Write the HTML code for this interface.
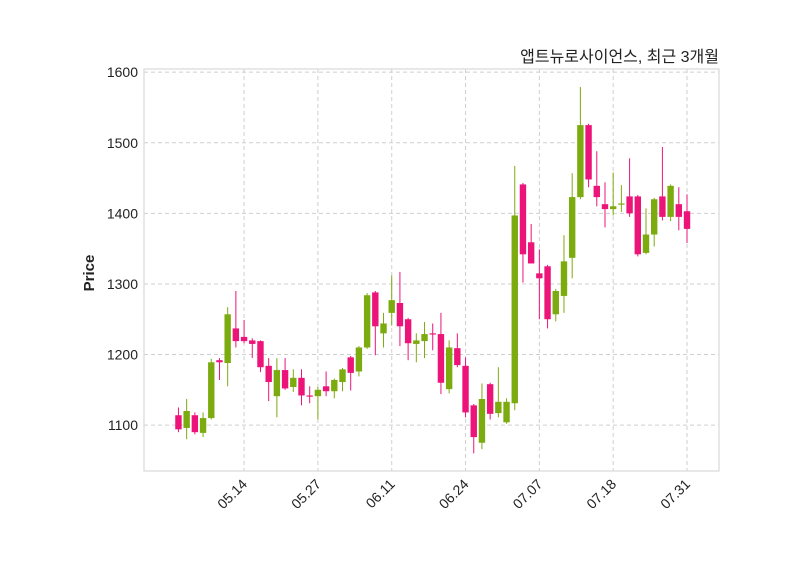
<!DOCTYPE html>
<html><head><meta charset="utf-8"><style>
body{margin:0;background:#fff;}
svg text{font-family:"Liberation Sans","Noto Sans CJK KR",sans-serif;}
</style></head><body>
<svg id="chart" width="800" height="575" xmlns="http://www.w3.org/2000/svg">
<rect width="800" height="575" fill="#fff"/>
<g id="grid"></g>
<rect x="144" y="69" width="575" height="402" fill="none" stroke="#d9d9d9" stroke-width="1.2"/>
<g id="candles"></g>
<g id="axes"></g>
<text x="719" y="62" text-anchor="end" font-size="16" fill="#222">앱트뉴로사이언스, 최근 3개월</text>
<text transform="translate(94,273) rotate(-90)" text-anchor="middle" font-size="15" font-weight="bold" fill="#222">Price</text>
</svg>
<script>
const opens  = [1114,1096,1114,1089,1110,1192,1188,1237,1225,1220,1219,1184,1141,1178,1154,1167,1142,1141,1155,1148,1161,1196,1176,1210,1288,1230,1259,1273,1250,1215,1219,1230,1229,1151,1209,1184,1128,1075,1158,1117,1104,1131,1441,1359,1315,1325,1257,1283,1337,1423,1525,1439,1413,1406,1413,1424,1424,1344,1370,1424,1395,1413,1403];
const closes = [1094,1120,1090,1110,1189,1189,1257,1219,1219,1215,1182,1161,1178,1152,1167,1142,1141,1150,1148,1164,1179,1174,1210,1284,1240,1244,1277,1240,1216,1220,1229,1229,1160,1210,1185,1118,1083,1137,1116,1133,1133,1397,1342,1329,1308,1250,1290,1332,1423,1525,1448,1423,1406,1410,1414,1400,1342,1370,1420,1395,1439,1395,1378];
const highs  = [1125,1137,1118,1118,1194,1195,1267,1290,1249,1223,1220,1195,1195,1195,1179,1179,1155,1154,1176,1166,1181,1198,1212,1287,1290,1259,1312,1317,1252,1230,1246,1244,1259,1220,1230,1196,1130,1159,1160,1182,1138,1467,1443,1385,1349,1327,1293,1369,1457,1579,1527,1488,1444,1458,1440,1478,1426,1407,1422,1494,1441,1437,1427];
const lows   = [1090,1080,1087,1083,1108,1164,1155,1210,1216,1195,1175,1134,1111,1150,1147,1128,1131,1108,1141,1138,1148,1149,1169,1208,1199,1210,1241,1212,1192,1189,1195,1206,1144,1145,1182,1111,1060,1066,1108,1111,1102,1121,1302,1329,1250,1237,1247,1259,1308,1420,1437,1410,1380,1397,1402,1395,1339,1342,1353,1390,1389,1376,1358];
const tickIdx = [8,17,26,35,44,53,62];
const tickLabels = ["05.14","05.27","06.11","06.24","07.07","07.18","07.31"];
const yTicks = [1100,1200,1300,1400,1500,1600];

const X0=144,X1=719,Y0=69,Y1=471, xmin=-4.2, xmax=65.9, ymin=1035, ymax=1604.5;
const x = i => X0 + (i - xmin)/(xmax - xmin)*(X1-X0);
const y = v => Y1 - (v - ymin)/(ymax - ymin)*(Y1-Y0);
const NS="http://www.w3.org/2000/svg";
function mk(tag, parent){const e=document.createElementNS(NS,tag);parent.appendChild(e);return e;}
const grid=document.getElementById('grid'), axes=document.getElementById('axes'), cg=document.getElementById('candles');

yTicks.forEach(v=>{
  const l=mk('line',grid);
  
  
  l.setAttribute('x1',X0);l.setAttribute('x2',X1);l.setAttribute('y1',y(v));l.setAttribute('y2',y(v));
  l.setAttribute('stroke','#cfcfcf');l.setAttribute('stroke-dasharray','4,3');
  const t=mk('text',axes);
  
  
  t.setAttribute('x',X0-6);t.setAttribute('y',y(v)+5);t.setAttribute('text-anchor','end');
  t.setAttribute('font-size','14');t.setAttribute('fill','#222');t.textContent=v;
});
tickIdx.forEach((i,k)=>{
  const l=mk('line',grid);
  
  
  l.setAttribute('x1',x(i));l.setAttribute('x2',x(i));l.setAttribute('y1',Y0);l.setAttribute('y2',Y1);
  l.setAttribute('stroke','#cfcfcf');l.setAttribute('stroke-dasharray','4,3');
  const t=mk('text',axes);
  
  
  t.setAttribute('transform','translate('+(x(i)+4)+','+(Y1+14)+') rotate(-45)');
  t.setAttribute('text-anchor','end');t.setAttribute('font-size','14');t.setAttribute('fill','#222');
  t.textContent=tickLabels[k];
});
opens.forEach((o,i)=>{
  const c=closes[i], up=c>=o, col=up?'#7cab0f':'#ec1479';
  const w=mk('line',cg);
  
  
  w.setAttribute('x1',x(i));w.setAttribute('x2',x(i));w.setAttribute('y1',y(highs[i]));w.setAttribute('y2',y(lows[i]));
  w.setAttribute('stroke',col);w.setAttribute('stroke-width','1');
  const r=mk('rect',cg);
  
  
  const top=y(Math.max(o,c)), bot=y(Math.min(o,c));
  r.setAttribute('x',x(i)-3.2);r.setAttribute('width',6.4);
  r.setAttribute('y',top);r.setAttribute('height',Math.max(1.2,bot-top));
  r.setAttribute('fill',col);
});
</script>
</body></html>
